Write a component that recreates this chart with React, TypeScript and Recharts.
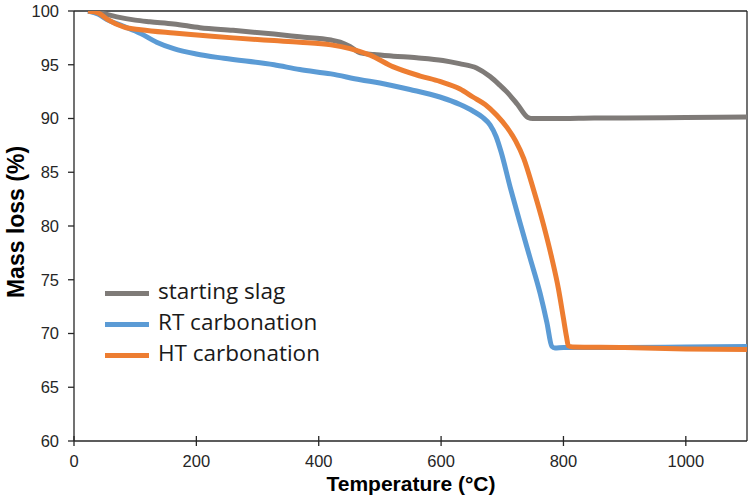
import React from 'react';
import { LineChart, Line, XAxis, YAxis, ReferenceLine, Legend, Label } from 'recharts';

const slagData = [
  { t: 23, v: 100 }, { t: 45, v: 99.8 }, { t: 70, v: 99.45 }, { t: 100, v: 99.15 },
  { t: 124, v: 99.0 }, { t: 163, v: 98.8 }, { t: 206, v: 98.45 }, { t: 260, v: 98.2 },
  { t: 327, v: 97.85 }, { t: 369, v: 97.6 }, { t: 420, v: 97.3 }, { t: 435, v: 97.1 },
  { t: 451, v: 96.7 }, { t: 468, v: 96.1 }, { t: 490, v: 95.95 }, { t: 522, v: 95.8 },
  { t: 560, v: 95.65 }, { t: 603, v: 95.4 }, { t: 630, v: 95.1 }, { t: 658, v: 94.7 },
  { t: 680, v: 93.9 }, { t: 696, v: 93.1 }, { t: 707, v: 92.5 }, { t: 725, v: 91.3 },
  { t: 742, v: 90.1 }, { t: 750, v: 90.0 }, { t: 800, v: 90.0 }, { t: 850, v: 90.05 },
  { t: 900, v: 90.05 }, { t: 1000, v: 90.1 }, { t: 1100, v: 90.15 },
];

const rtData = [
  { t: 23, v: 100 }, { t: 40, v: 99.7 }, { t: 54, v: 99.2 }, { t: 80, v: 98.6 },
  { t: 109, v: 97.9 }, { t: 135, v: 97.1 }, { t: 163, v: 96.5 }, { t: 200, v: 96.0 },
  { t: 245, v: 95.6 }, { t: 327, v: 95.0 }, { t: 369, v: 94.55 }, { t: 420, v: 94.15 },
  { t: 468, v: 93.6 }, { t: 500, v: 93.3 }, { t: 549, v: 92.7 }, { t: 598, v: 92.0 },
  { t: 631, v: 91.3 }, { t: 652, v: 90.7 }, { t: 668, v: 90.1 }, { t: 680, v: 89.4 },
  { t: 690, v: 88.3 }, { t: 698, v: 86.9 }, { t: 713, v: 83.6 }, { t: 729, v: 80.3 },
  { t: 745, v: 77.1 }, { t: 762, v: 73.7 }, { t: 773, v: 71.0 }, { t: 781, v: 68.8 },
  { t: 786, v: 68.65 }, { t: 800, v: 68.7 }, { t: 900, v: 68.7 }, { t: 1000, v: 68.75 },
  { t: 1100, v: 68.8 },
];

const htData = [
  { t: 23, v: 100 }, { t: 40, v: 99.8 }, { t: 54, v: 99.25 }, { t: 82, v: 98.5 },
  { t: 109, v: 98.25 }, { t: 163, v: 97.95 }, { t: 206, v: 97.75 }, { t: 260, v: 97.5 },
  { t: 327, v: 97.25 }, { t: 369, v: 97.1 }, { t: 420, v: 96.85 }, { t: 451, v: 96.5 },
  { t: 484, v: 95.9 }, { t: 522, v: 94.8 }, { t: 566, v: 93.95 }, { t: 598, v: 93.45 },
  { t: 631, v: 92.75 }, { t: 652, v: 92.0 }, { t: 672, v: 91.3 }, { t: 691, v: 90.3 },
  { t: 708, v: 89.15 }, { t: 722, v: 87.9 }, { t: 735, v: 86.3 }, { t: 751, v: 83.4 },
  { t: 767, v: 80.2 }, { t: 781, v: 77.0 }, { t: 792, v: 74.1 }, { t: 800, v: 71.4 },
  { t: 805, v: 69.7 }, { t: 808, v: 68.85 }, { t: 815, v: 68.75 }, { t: 900, v: 68.7 },
  { t: 1000, v: 68.55 }, { t: 1100, v: 68.5 },
];

const xTicks = [0, 200, 400, 600, 800, 1000];
const yTicks = [60, 65, 70, 75, 80, 85, 90, 95, 100];

const seriesNames = ['starting slag', 'RT carbonation', 'HT carbonation'];
const seriesColors = ['#7f7b78', '#5b9bd5', '#ed7d31'];

const axisColor = '#262626';
const tickFont = '"Liberation Sans", Arial, sans-serif';

const XTick = (props: any) => {
  const { x, y, payload } = props;
  return (
    <g>
      <line x1={x} x2={x} y1={y - 5} y2={y + 5} stroke={axisColor} strokeWidth={1.3} />
      <text x={x} y={y + 26} textAnchor="middle" fontSize={16.5} fill={axisColor} fontFamily={tickFont}>
        {payload.value}
      </text>
    </g>
  );
};

const LegendContent = () => (
  <div style={{ fontFamily: '"Open Sans", "Noto Sans", sans-serif', fontSize: 22.5, color: '#1a1a1a' }}>
    {seriesNames.map((n, i) => (
      <div key={n} style={{ display: 'flex', alignItems: 'center', height: 31 }}>
        <div style={{ width: 44, height: 5, background: seriesColors[i], marginRight: 9 }} />
        <span style={{ lineHeight: '31px', whiteSpace: 'nowrap', position: 'relative', top: -3 }}>{n}</span>
      </div>
    ))}
  </div>
);

export default function App() {
  return (
    <div style={{ position: 'absolute', left: 0, top: 0, width: 756, height: 502, background: '#fff' }}>
      <LineChart width={756} height={502} margin={{ top: 11, right: 9, bottom: 0, left: 0 }}>
        <XAxis
          type="number"
          dataKey="t"
          domain={[0, 1100]}
          ticks={xTicks}
          allowDataOverflow
          stroke={axisColor}
          strokeWidth={1.3}
          tickLine={false}
          tickSize={0}
          tickMargin={0}
          tick={<XTick />}
          height={61}
        >
          <Label
            content={() => (
              <text x={411} y={491} textAnchor="middle" fontSize={21} fontWeight="bold" fill="#000" fontFamily={tickFont}>
                Temperature (°C)
              </text>
            )}
          />
        </XAxis>
        <YAxis
          type="number"
          dataKey="v"
          domain={[60, 100]}
          ticks={yTicks}
          allowDataOverflow
          width={74}
          stroke={axisColor}
          strokeWidth={1.3}
          tickSize={6}
          tickMargin={9}
          tick={{ fontSize: 16.5, fill: axisColor, fontFamily: tickFont }}
        >
          <Label
            content={() => (
              <text
                x={24}
                y={222}
                transform="rotate(-90 24 222)"
                textAnchor="middle"
                fontSize={23}
                fontWeight="bold"
                fill="#000"
                fontFamily={tickFont}
              >
                Mass loss (%)
              </text>
            )}
          />
        </YAxis>
        <ReferenceLine y={100} stroke={axisColor} strokeWidth={1.3} />
        <ReferenceLine x={1100} stroke={axisColor} strokeWidth={1.3} />
        <Line
          data={slagData}
          dataKey="v"
          name={seriesNames[0]}
          type="monotone"
          stroke={seriesColors[0]}
          strokeWidth={5}
          dot={false}
          isAnimationActive={false}
        />
        <Line
          data={rtData}
          dataKey="v"
          name={seriesNames[1]}
          type="monotone"
          stroke={seriesColors[1]}
          strokeWidth={5}
          dot={false}
          isAnimationActive={false}
        />
        <Line
          data={htData}
          dataKey="v"
          name={seriesNames[2]}
          type="monotone"
          stroke={seriesColors[2]}
          strokeWidth={5}
          dot={false}
          isAnimationActive={false}
        />
        <Legend
          layout="vertical"
          align="center"
          verticalAlign="middle"
          content={<LegendContent />}
          wrapperStyle={{ position: 'absolute', left: 105, top: 278, width: 'auto' }}
        />
      </LineChart>
    </div>
  );
}
